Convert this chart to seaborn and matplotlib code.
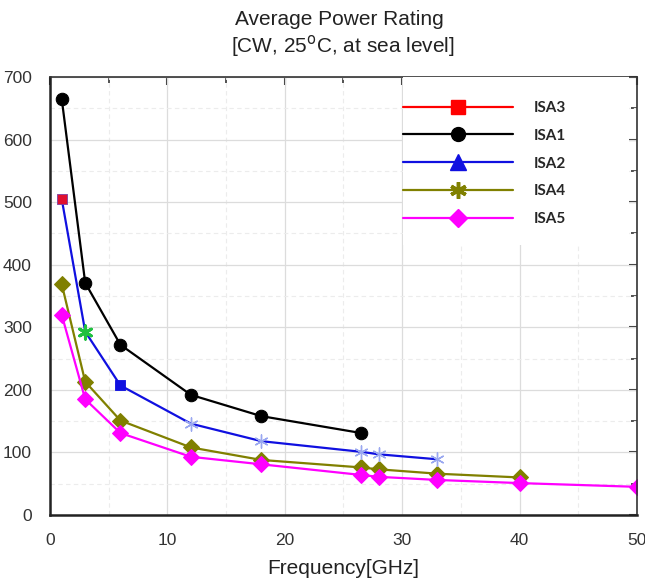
import matplotlib
matplotlib.use("Agg")
import matplotlib.pyplot as plt
import seaborn as sns
from matplotlib.lines import Line2D
from matplotlib.patches import Rectangle
from matplotlib.ticker import MultipleLocator, NullFormatter

# Daten
isa1_freq = [1, 3, 6, 12, 18, 26.5]
isa1_power = [665, 371, 272, 192, 158, 131]

isa2_freq = [1, 3, 6, 12, 18, 26.5, 28, 33]
isa2_power = [505, 293, 207, 146, 118, 101, 97, 89]

isa3_freq = [1]
isa3_power = [505]

isa4_freq = [1, 3, 6, 12, 18, 26.5, 28, 33, 40]
isa4_power = [369, 213, 151, 108, 88, 76, 73, 66, 60]

isa5_freq = [1, 3, 6, 12, 18, 26.5, 28, 33, 40, 50]
isa5_power = [320, 185, 131, 93, 81, 64, 61, 56, 51, 45]

legend_labels = ["ISA3", "ISA1", "ISA2", "ISA4", "ISA5"]

sns.set_theme(style="white")
plt.rcParams["font.family"] = ["Liberation Sans", "DejaVu Sans"]

fig = plt.figure(figsize=(6.45, 5.81), dpi=100)
ax = fig.add_axes([0.0775, 0.1136, 0.9101, 0.7539])

# Linien
sns.lineplot(x=isa1_freq, y=isa1_power, ax=ax, color="black", lw=1.6,
             marker="o", markersize=9, markeredgecolor="black")
sns.lineplot(x=isa2_freq, y=isa2_power, ax=ax, color="#1010e0", lw=1.6)
sns.lineplot(x=isa4_freq, y=isa4_power, ax=ax, color="#808000", lw=1.6,
             marker="D", markersize=8, markeredgecolor="#808000")
sns.lineplot(x=isa5_freq, y=isa5_power, ax=ax, color="#ff00ff", lw=1.6,
             marker="D", markersize=8, markeredgecolor="#ff00ff")

# ISA2 Marker (gemischt wie im Original)
sns.scatterplot(x=isa2_freq[1:2], y=isa2_power[1:2], ax=ax, marker=(6, 2, 0),
                s=90, color="#20c040", linewidth=2.2, zorder=5)
sns.scatterplot(x=isa2_freq[2:3], y=isa2_power[2:3], ax=ax, marker="s",
                s=60, color="#1010e0", edgecolor="#1010e0", zorder=5)
sns.scatterplot(x=isa2_freq[3:], y=isa2_power[3:], ax=ax, marker=(6, 2, 0),
                s=90, color="#9aa8f0", linewidth=1.0, zorder=5)
sns.scatterplot(x=isa3_freq, y=isa3_power, ax=ax, marker="s", s=60,
                color="#e01030", edgecolor="#8040a0", zorder=6)

ax.set_xlim(0, 50)
ax.set_ylim(0, 700)
ax.xaxis.set_major_locator(MultipleLocator(10))
ax.xaxis.set_minor_locator(MultipleLocator(5))
ax.yaxis.set_major_locator(MultipleLocator(100))
ax.yaxis.set_minor_locator(MultipleLocator(50))

ax.grid(True, which="major", color="#dcdcdc", lw=0.9)
ax.grid(True, which="minor", color="#ececec", lw=0.8, ls=(0, (4, 3)))
ax.set_axisbelow(True)

for side in ["left", "bottom"]:
    ax.spines[side].set_linewidth(1.8)
    ax.spines[side].set_color("#222222")
for side in ["top", "right"]:
    ax.spines[side].set_linewidth(1.2)
    ax.spines[side].set_color("#333333")

ax.tick_params(axis="both", which="major", direction="out", length=8, width=1.5,
               pad=5, labelsize=12.5, labelcolor="#333333", color="#222222")
ax.tick_params(axis="both", which="minor", direction="out", length=5, width=1.2,
               color="#222222")

# Ticks oben/rechts nach innen
top = ax.secondary_xaxis("top")
top.xaxis.set_major_locator(MultipleLocator(10))
top.xaxis.set_minor_locator(MultipleLocator(5))
top.xaxis.set_major_formatter(NullFormatter())
top.tick_params(which="major", direction="in", length=6, width=1.5, color="#333333")
top.tick_params(which="minor", direction="in", length=4, width=1.2, color="#333333")
top.spines["top"].set_visible(False)

right = ax.secondary_yaxis("right")
right.yaxis.set_major_locator(MultipleLocator(100))
right.yaxis.set_minor_locator(MultipleLocator(50))
right.yaxis.set_major_formatter(NullFormatter())
right.tick_params(which="major", direction="in", length=6, width=1.5, color="#333333")
right.tick_params(which="minor", direction="in", length=4, width=1.2, color="#333333")
right.spines["right"].set_visible(False)

ax.set_xlabel("Frequency[GHz]", fontsize=15, color="#222222", labelpad=8)
ax.set_ylabel("")
fig.text(0.526, 0.967, "Average Power Rating", ha="center", va="center",
         fontsize=15, color="#222222")
fig.text(0.531, 0.920, "[CW, 25$^{\\mathrm{o}}$C, at sea level]", ha="center",
         va="center", fontsize=15, color="#222222")

# Legende (weisser Kasten wie im Original)
ax.add_patch(Rectangle((0.601, 0.616), 0.386, 0.384, transform=ax.transAxes,
                       facecolor="white", edgecolor="none", zorder=4))
handles = [
    Line2D([], [], color="red", lw=1.6, marker="s", markersize=10),
    Line2D([], [], color="black", lw=1.6, marker="o", markersize=10),
    Line2D([], [], color="#1010e0", lw=1.6, marker="^", markersize=11),
    Line2D([], [], color="#808000", lw=1.6, marker=(6, 2, 0), markersize=12, markeredgewidth=2.5),
    Line2D([], [], color="#ff00ff", lw=1.6, marker="D", markersize=9),
]
leg = ax.legend(handles, legend_labels, loc="upper left", bbox_to_anchor=(0.601, 0.945),
                frameon=False, handlelength=7.2, handletextpad=1.4, labelspacing=0.9,
                borderpad=0, borderaxespad=0,
                prop={"weight": "bold", "size": 11, "family": "Lato"})
leg.set_zorder(10)

fig.savefig("out.png", dpi=100)
